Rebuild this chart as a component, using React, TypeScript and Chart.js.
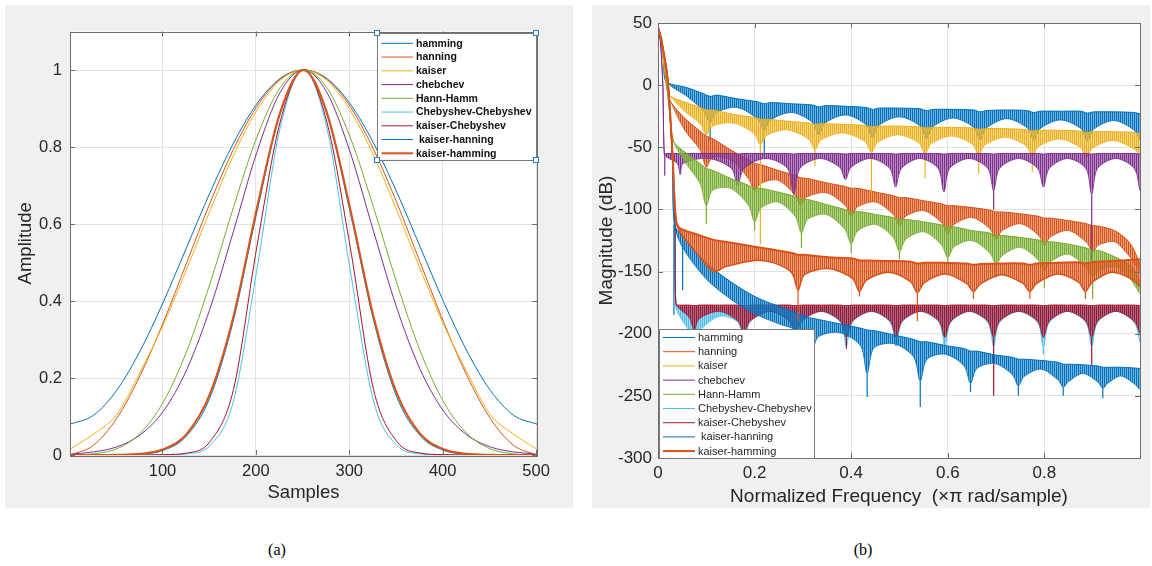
import React, { useEffect, useRef } from 'react';
import { Chart, registerables } from 'chart.js';

Chart.register(...registerables);
Chart.defaults.font.family = '"Liberation Sans", Arial, Helvetica, sans-serif';

// ---------------- colours / labels ----------------
const C_BLUE = '#0072BD';
const C_ORANGE = '#D95319';
const C_YELLOW = '#EDB120';
const C_PURPLE = '#7E2F8E';
const C_GREEN = '#77AC30';
const C_CYAN = '#4DBEEE';
const C_RED = '#A2142F';

const WINDOW_NAMES = ['hamming', 'hanning', 'kaiser', 'chebchev', 'Hann-Hamm', 'Chebyshev-Chebyshev', 'kaiser-Chebyshev', ' kaiser-hanning', 'kaiser-hamming'];
const SERIES_COLORS = [C_BLUE, C_ORANGE, C_YELLOW, C_PURPLE, C_GREEN, C_CYAN, C_RED, C_BLUE, C_ORANGE];
const SERIES_WIDTHS = [1, 1, 1, 1, 1, 1, 1, 1, 2];

// ---------------- (a) window shapes ----------------
const SAMPLE_TICKS = [100, 200, 300, 400, 500];
const AMP_TICKS = [0, 0.2, 0.4, 0.6, 0.8, 1];
const SAMPLES = [1, 26, 51, 76, 101, 126, 151, 176, 201, 226, 251, 276, 301, 326, 351, 376, 401, 426, 451, 476, 501];
const W_HAMMING = [0.080, 0.103, 0.168, 0.270, 0.398, 0.540, 0.682, 0.810, 0.912, 0.978, 1.000, 0.978, 0.912, 0.810, 0.682, 0.540, 0.398, 0.270, 0.168, 0.103, 0.080];
const W_HANNING = [0.000, 0.025, 0.095, 0.206, 0.345, 0.500, 0.655, 0.794, 0.905, 0.976, 1.000, 0.976, 0.905, 0.794, 0.655, 0.500, 0.345, 0.206, 0.095, 0.025, 0.000];
const W_KAISER = [0.015, 0.054, 0.105, 0.215, 0.339, 0.483, 0.635, 0.778, 0.895, 0.973, 1.000, 0.973, 0.895, 0.778, 0.635, 0.483, 0.339, 0.215, 0.105, 0.054, 0.015];
const W_CHEB = [0.002, 0.008, 0.021, 0.052, 0.114, 0.222, 0.381, 0.581, 0.786, 0.942, 1.000, 0.942, 0.786, 0.581, 0.381, 0.222, 0.114, 0.052, 0.021, 0.008, 0.002];
const W_HANN_HAMM = [0.000, 0.003, 0.016, 0.056, 0.138, 0.270, 0.446, 0.643, 0.825, 0.954, 1.000, 0.954, 0.825, 0.643, 0.446, 0.270, 0.138, 0.056, 0.016, 0.003, 0.000];
const W_CHEB_CHEB = [0, 0, 0, 0, 0, 0.003, 0.025, 0.140, 0.480, 0.850, 1.000, 0.850, 0.480, 0.140, 0.025, 0.003, 0, 0, 0, 0, 0];
const W_KAISER_CHEB = [0, 0, 0, 0, 0.001, 0.005, 0.035, 0.170, 0.540, 0.865, 1.000, 0.865, 0.540, 0.170, 0.035, 0.005, 0.001, 0, 0, 0, 0];
const W_KAISER_HANN = [0, 0, 0, 0.002, 0.012, 0.050, 0.150, 0.350, 0.630, 0.885, 1.000, 0.885, 0.630, 0.350, 0.150, 0.050, 0.012, 0.002, 0, 0, 0];
const W_KAISER_HAMM = [0, 0, 0.0005, 0.003, 0.015, 0.055, 0.160, 0.360, 0.640, 0.890, 1.000, 0.890, 0.640, 0.360, 0.160, 0.055, 0.015, 0.003, 0.0005, 0, 0];
const WINDOW_VALUES = [W_HAMMING, W_HANNING, W_KAISER, W_CHEB, W_HANN_HAMM, W_CHEB_CHEB, W_KAISER_CHEB, W_KAISER_HANN, W_KAISER_HAMM];

// ---------------- (b) magnitude responses (upper edge / lower edge of the dense band) ----------------
const FREQ_TICKS = [0, 0.2, 0.4, 0.6, 0.8];
const DB_TICKS = [-300, -250, -200, -150, -100, -50, 0, 50];

const HAM_F = [0, 0.006, 0.012, 0.017, 0.06, 0.095, 0.108, 0.121, 0.164, 0.207, 0.220, 0.233, 0.277, 0.320, 0.333, 0.346, 0.389, 0.431, 0.444, 0.457, 0.500, 0.543, 0.556, 0.569, 0.611, 0.654, 0.667, 0.680, 0.722, 0.765, 0.778, 0.791, 0.833, 0.876, 0.889, 0.902, 0.944, 0.985, 0.998];
const HAM_HI = [47, 38, 18, 3, -2, -7, -9, -8, -11, -13.5, -15, -14, -15, -16, -17.5, -16.5, -17, -18, -19.5, -18.5, -18.5, -19, -20.5, -19.5, -19.5, -20, -21.5, -20.5, -20, -20.5, -22, -21, -21, -21, -22.5, -21.5, -21.5, -22, -23];
const HAM_LO = [47, 38, 18, 3, -9, -21, -30, -22, -18, -27.5, -36, -28, -22, -30, -40, -30.5, -24, -32, -42, -32.5, -25.5, -33, -43, -33.5, -26.5, -34, -44, -34.5, -27, -34.5, -44, -35, -28, -35, -45, -35.5, -28.5, -36, -44];
const HAM_SPK = [[0.108, -30, -45], [0.220, -36, -57]];

const HANN_F = [0, 0.007, 0.014, 0.021, 0.027, 0.055, 0.087, 0.100, 0.113, 0.150, 0.187, 0.200, 0.213, 0.248, 0.282, 0.295, 0.308, 0.348, 0.387, 0.400, 0.413, 0.450, 0.487, 0.500, 0.513, 0.550, 0.587, 0.600, 0.613, 0.650, 0.687, 0.700, 0.713, 0.750, 0.787, 0.800, 0.813, 0.850, 0.887, 0.900, 0.913, 0.945, 0.970, 0.985, 0.998];
const HANN_HI = [47, 37, 10, -8, -14, -26.5, -37, -41, -43, -52, -60, -63, -64, -68.5, -72.5, -74.5, -75, -78.5, -81.5, -83, -83, -86, -89, -90.5, -90.5, -93, -95.5, -97, -97, -98.5, -100.5, -102, -102, -103.5, -105.5, -107, -107, -109, -111.5, -113, -113.5, -117, -124, -132, -145];
const HANN_LO = [47, 37, 10, -8, -14, -36, -52, -66, -58, -60, -75, -85, -79, -76.5, -87.5, -96, -90, -86.5, -96.5, -105, -98, -94, -104, -113, -105.5, -101, -110.5, -119, -112, -106.5, -115.5, -124, -117, -111.5, -120.5, -129, -122, -117, -126.5, -134, -128.5, -126, -135, -142, -150];
const HANN_SPK = [[0.295, -96, -99]];

const KAIS_F = [0, 0.006, 0.013, 0.020, 0.026, 0.055, 0.087, 0.100, 0.113, 0.156, 0.199, 0.212, 0.225, 0.268, 0.312, 0.325, 0.338, 0.383, 0.429, 0.442, 0.455, 0.497, 0.540, 0.553, 0.566, 0.608, 0.651, 0.664, 0.677, 0.720, 0.762, 0.775, 0.788, 0.831, 0.874, 0.887, 0.900, 0.942, 0.984, 0.998];
const KAIS_HI = [47, 38, 15, -4, -9, -13.5, -18, -20, -20, -23.5, -26, -27.5, -27.5, -29, -30.5, -31.5, -31, -31.5, -32.5, -33.5, -33, -33, -33.5, -34.5, -34, -34, -34.5, -35.5, -35, -35, -35.8, -36.8, -36.3, -36.3, -37, -38, -37.5, -37.5, -38, -39];
const KAIS_LO = [47, 38, 15, -4, -9, -21, -31, -40, -33, -30.5, -39, -48, -40.5, -36, -43.5, -52, -44, -38.5, -45.5, -54, -46, -40, -46.5, -55, -47, -41, -47.5, -56, -48, -42, -48.8, -57, -49.3, -43.3, -50, -58, -50.5, -44.5, -51, -56];
const KAIS_SPK = [[0.212, -48, -128], [0.325, -52, -65], [0.442, -54, -92], [0.553, -55, -75], [0.664, -56, -71], [0.775, -57, -70]];

const CHEB_F = [0, 0.005, 0.010, 0.013, 0.018, 0.040, 0.046, 0.052, 0.105, 0.152, 0.165, 0.178, 0.223, 0.268, 0.281, 0.294, 0.335, 0.376, 0.388, 0.400, 0.440, 0.480, 0.492, 0.504, 0.542, 0.580, 0.592, 0.604, 0.644, 0.683, 0.695, 0.707, 0.747, 0.786, 0.798, 0.810, 0.848, 0.886, 0.898, 0.910, 0.948, 0.986, 0.998];
const CHEB_HI = [47, 35, 0, -55, -55, -55, -55.5, -55, -55, -55, -55.5, -55, -55, -55, -55.5, -55, -55, -55, -55.5, -55, -55, -55, -55.5, -55, -55, -55, -55.5, -55, -55, -55, -55.5, -55, -55, -55, -55.5, -55, -55, -55, -55.5, -55, -55, -55, -55.5];
const CHEB_LO = [47, 35, 0, -55, -58, -63, -72, -63, -59, -67, -80, -67, -59, -67, -88, -67, -59, -66, -76, -66, -59, -67, -82, -67, -59, -67, -86, -67, -59, -67, -85, -67, -59, -67, -82, -67, -59, -67, -88, -67, -59, -67, -85];
const CHEB_SPK = [[0.014, -55, -73], [0.695, -85, -100], [0.898, -88, -141]];

const HH_F = [0, 0.008, 0.016, 0.024, 0.032, 0.058, 0.087, 0.100, 0.113, 0.150, 0.187, 0.200, 0.213, 0.248, 0.284, 0.297, 0.310, 0.348, 0.387, 0.400, 0.413, 0.450, 0.487, 0.500, 0.513, 0.550, 0.587, 0.600, 0.613, 0.650, 0.687, 0.700, 0.713, 0.750, 0.787, 0.800, 0.813, 0.850, 0.887, 0.900, 0.913, 0.945, 0.970, 0.985, 0.998];
const HH_HI = [47, 37, 10, -22, -45, -54.5, -63, -67, -68.5, -75, -80.5, -83, -83, -86, -89.5, -92, -92, -96, -100, -102, -101.5, -104, -106.5, -108, -108, -110, -112.5, -114, -114, -117, -119, -121, -121, -122.5, -124.5, -126, -126, -128, -131, -133, -133, -138, -143, -148, -158];
const HH_LO = [47, 37, 10, -22, -45, -63, -79, -97, -84.5, -83, -96.5, -110, -99, -94, -105.5, -119, -108, -104, -116, -128, -117.5, -112, -122.5, -134, -124, -118, -128.5, -139, -130, -125, -135, -144, -137, -130.5, -140.5, -149, -142, -136, -147, -154, -149, -146, -152, -160, -168];
const HH_SPK = [[0.1, -97, -112], [0.2, -110, -117], [0.297, -119, -131], [0.4, -128, -135], [0.5, -134, -140], [0.6, -139, -144], [0.7, -144, -155], [0.8, -149, -163], [0.9, -154, -172]];

const KC_F = [0, 0.010, 0.020, 0.030, 0.035, 0.037, 0.045, 0.065, 0.075, 0.085, 0.127, 0.166, 0.178, 0.190, 0.232, 0.273, 0.285, 0.297, 0.338, 0.378, 0.390, 0.402, 0.442, 0.481, 0.493, 0.505, 0.544, 0.582, 0.594, 0.606, 0.645, 0.683, 0.695, 0.707, 0.747, 0.786, 0.798, 0.810, 0.848, 0.886, 0.898, 0.910, 0.948, 0.986, 0.998];
const CC_HI = [47, 30, 5, -60, -110, -178, -179, -179, -179.5, -179, -179, -179, -179.5, -179, -179, -179, -179.5, -179, -179, -179, -179.5, -179, -179, -179, -179.5, -179, -179, -179, -179.5, -179, -179, -179, -179.5, -179, -179, -179, -179.5, -179, -179, -179, -179.5, -179, -179, -179, -179.5];
const CC_LO = [47, 30, 5, -60, -110, -178, -186, -198, -206, -198, -186, -191, -210, -191, -182, -191, -210, -191, -182, -191, -210, -191, -182, -191, -210, -191, -182, -191, -210, -191, -182, -191, -210, -191, -182, -191, -210, -191, -182, -191, -210, -191, -182, -191, -207];
const CC_SPK = [[0.798, -210, -217]];
const KC_HI = [47, 30, 5, -60, -110, -176, -177, -177, -177.5, -177, -177, -177, -177.5, -177, -177, -177, -177.5, -177, -177, -177, -177.5, -177, -177, -177, -177.5, -177, -177, -177, -177.5, -177, -177, -177, -177.5, -177, -177, -177, -177.5, -177, -177, -177, -177.5, -177, -177, -177, -177.5];
const KC_LO = [47, 30, 5, -60, -110, -176, -180, -187, -197, -188, -182, -190, -200, -190, -182, -190, -201, -190, -182, -190, -203, -190, -182, -190, -203, -190, -182, -190, -203, -190, -182, -190, -203, -190, -182, -190, -203, -190, -182, -190, -203, -190, -182, -190, -200];
const KC_SPK = [[0.39, -203, -212], [0.695, -203, -250], [0.898, -203, -225]];

const KH_F = [0, 0.010, 0.020, 0.030, 0.034, 0.050, 0.100, 0.150, 0.200, 0.250, 0.304, 0.318, 0.332, 0.375, 0.419, 0.433, 0.447, 0.488, 0.529, 0.543, 0.557, 0.595, 0.634, 0.647, 0.660, 0.697, 0.734, 0.746, 0.758, 0.793, 0.828, 0.839, 0.850, 0.880, 0.911, 0.921, 0.931, 0.958, 0.985, 0.998];
const KH_HI = [47, 30, 5, -60, -112, -121, -143, -158, -170, -178, -186, -187.5, -188.5, -192, -195.5, -197, -197.5, -201, -204.5, -206.5, -206.5, -209.5, -212, -214, -214, -217, -219, -220.5, -220.5, -221.5, -223, -224.5, -224.5, -225, -226, -227, -227, -227, -227.5, -228];
const KH_LO = [47, 30, 5, -60, -112, -130, -156, -172, -184, -192, -200, -214, -202.5, -199, -209.5, -232, -211.5, -208, -218.5, -238, -220.5, -216.5, -226, -240, -228, -224, -233, -242, -234.5, -228.5, -237, -243, -238.5, -232, -239, -244, -240, -234, -240, -245];
const KH_SPK = [[0.033, -112, -185], [0.051, -125, -165], [0.433, -232, -251], [0.543, -238, -259], [0.647, -240, -247], [0.746, -242, -250], [0.839, -243, -250], [0.921, -244, -252]];

const KHM_F = [0, 0.010, 0.020, 0.030, 0.037, 0.045, 0.080, 0.115, 0.140, 0.200, 0.240, 0.277, 0.290, 0.303, 0.353, 0.403, 0.417, 0.431, 0.477, 0.523, 0.537, 0.551, 0.595, 0.639, 0.653, 0.667, 0.711, 0.756, 0.770, 0.784, 0.827, 0.871, 0.885, 0.899, 0.940, 0.981, 0.998];
const KHM_HI = [47, 30, 5, -55, -108, -115, -120, -124.5, -126, -130, -132.5, -135, -136.5, -136.5, -138.5, -139.5, -141, -141, -141.5, -142, -143.5, -143, -143, -143.5, -144.5, -144, -143.5, -143.5, -144.5, -143.5, -143, -142.5, -143.5, -142.5, -141.5, -140.5, -140];
const KHM_LO = [47, 30, 5, -55, -108, -118, -135, -150, -146, -141, -143, -151, -165, -152.5, -147.5, -155.5, -166, -157, -150.5, -158, -167, -159, -152, -159.5, -166, -160, -152.5, -159.5, -166, -159.5, -152, -158.5, -166, -158.5, -150.5, -156, -162];
const KHM_SPK = [[0.29, -165, -190], [0.417, -166, -170], [0.537, -167, -190], [0.653, -166, -172], [0.77, -166, -172], [0.885, -166, -172]];

const RESPONSES = [
  { F: HAM_F, HI: HAM_HI, LO: HAM_LO, SPK: HAM_SPK },
  { F: HANN_F, HI: HANN_HI, LO: HANN_LO, SPK: HANN_SPK },
  { F: KAIS_F, HI: KAIS_HI, LO: KAIS_LO, SPK: KAIS_SPK },
  { F: CHEB_F, HI: CHEB_HI, LO: CHEB_LO, SPK: CHEB_SPK },
  { F: HH_F, HI: HH_HI, LO: HH_LO, SPK: HH_SPK },
  { F: KC_F, HI: CC_HI, LO: CC_LO, SPK: CC_SPK },
  { F: KC_F, HI: KC_HI, LO: KC_LO, SPK: KC_SPK },
  { F: KH_F, HI: KH_HI, LO: KH_LO, SPK: KH_SPK },
  { F: KHM_F, HI: KHM_HI, LO: KHM_LO, SPK: KHM_SPK },
];

// ---------------- styling helpers ----------------
const TICK_COLOR = '#262626';
const AXIS_COLOR = '#6e6e6e';
const GRID_COLOR = '#e2e2e2';

function hexToRgba(hex: string, a: number) {
  const n = parseInt(hex.slice(1), 16);
  return `rgba(${(n >> 16) & 255},${(n >> 8) & 255},${n & 255},${a})`;
}

function makePattern(color: string): CanvasPattern | string {
  const c = document.createElement('canvas');
  c.width = 2;
  c.height = 4;
  const g = c.getContext('2d');
  if (!g) return color;
  g.fillStyle = color;
  g.fillRect(0, 0, 1, 4);
  g.fillStyle = hexToRgba(color, 0.55);
  g.fillRect(1, 0, 1, 4);
  return g.createPattern(c, 'repeat') || color;
}

const plotBgPlugin = {
  id: 'plotBg',
  beforeDraw(chart: any) {
    const { ctx, chartArea } = chart;
    ctx.save();
    ctx.fillStyle = '#ffffff';
    ctx.fillRect(chartArea.left, chartArea.top, chartArea.right - chartArea.left, chartArea.bottom - chartArea.top);
    ctx.restore();
  },
};

const boxPlugin = {
  id: 'boxTicks',
  afterDraw(chart: any) {
    const { ctx, chartArea } = chart;
    const { left, right, top, bottom } = chartArea;
    ctx.save();
    ctx.strokeStyle = AXIS_COLOR;
    ctx.lineWidth = 1;
    ctx.strokeRect(Math.round(left) + 0.5, Math.round(top) + 0.5, Math.round(right - left), Math.round(bottom - top));
    ctx.beginPath();
    const xs = chart.scales.x;
    xs.ticks.forEach((t: any) => {
      const px = Math.round(xs.getPixelForValue(t.value)) + 0.5;
      ctx.moveTo(px, bottom);
      ctx.lineTo(px, bottom - 5);
      ctx.moveTo(px, top);
      ctx.lineTo(px, top + 5);
    });
    const ys = chart.scales.y;
    ys.ticks.forEach((t: any) => {
      const py = Math.round(ys.getPixelForValue(t.value)) + 0.5;
      ctx.moveTo(left, py);
      ctx.lineTo(left + 5, py);
      ctx.moveTo(right, py);
      ctx.lineTo(right - 5, py);
    });
    ctx.stroke();
    ctx.restore();
  },
};

function legendPlugin(o: any) {
  return {
    id: 'customLegend',
    afterDraw(chart: any) {
      const ctx = chart.ctx;
      ctx.save();
      ctx.fillStyle = '#ffffff';
      ctx.fillRect(o.x, o.y, o.w, o.h);
      ctx.strokeStyle = o.border;
      ctx.lineWidth = 1;
      ctx.strokeRect(o.x + 0.5, o.y + 0.5, o.w, o.h);
      WINDOW_NAMES.forEach((name, i) => {
        const y = o.row0 + i * o.dy;
        ctx.strokeStyle = SERIES_COLORS[i];
        ctx.lineWidth = SERIES_WIDTHS[i];
        ctx.beginPath();
        ctx.moveTo(o.lx0, y);
        ctx.lineTo(o.lx1, y);
        ctx.stroke();
        ctx.fillStyle = o.textColor;
        ctx.font = o.font;
        ctx.textBaseline = 'middle';
        ctx.textAlign = 'left';
        ctx.fillText(name, o.tx, y + 0.5);
      });
      if (o.handles) {
        const pts = [[o.x, o.y], [o.x + o.w, o.y], [o.x, o.y + o.h], [o.x + o.w, o.y + o.h]];
        pts.forEach(([hx, hy]) => {
          ctx.fillStyle = '#ffffff';
          ctx.fillRect(hx - 2.5, hy - 2.5, 5, 5);
          ctx.strokeStyle = '#2a7fc4';
          ctx.lineWidth = 1;
          ctx.strokeRect(hx - 2.5, hy - 2.5, 5, 5);
        });
      }
      ctx.restore();
    },
  };
}

function axisBase(ticks: number[], fontSize: number, pad: number) {
  return {
    type: 'linear',
    afterBuildTicks: (a: any) => {
      a.ticks = ticks.map((v) => ({ value: v }));
    },
    grid: { color: GRID_COLOR, drawTicks: false, lineWidth: 1 },
    border: { display: false },
    ticks: {
      color: TICK_COLOR,
      font: { size: fontSize },
      padding: pad,
      autoSkip: false,
      maxRotation: 0,
      callback: (v: any) => String(v),
    },
  };
}

function leftConfig(): any {
  const datasets = WINDOW_VALUES.map((vals, i) => ({
    label: WINDOW_NAMES[i],
    data: SAMPLES.map((x, j) => ({ x, y: vals[j] })),
    borderColor: SERIES_COLORS[i],
    borderWidth: SERIES_WIDTHS[i],
    pointRadius: 0,
    pointHoverRadius: 0,
    cubicInterpolationMode: 'monotone',
    fill: false,
    order: 20 - i,
  }));
  return {
    type: 'line',
    data: { datasets },
    options: {
      animation: false,
      responsive: false,
      devicePixelRatio: 1,
      events: [],
      layout: { padding: { left: 0, right: 36, top: 26.5, bottom: 0 } },
      plugins: { legend: { display: false }, tooltip: { enabled: false } },
      scales: {
        x: {
          ...axisBase(SAMPLE_TICKS, 16.5, 7),
          min: 1,
          max: 501,
          afterFit: (a: any) => { a.height = 53; },
          title: { display: true, text: 'Samples', color: TICK_COLOR, font: { size: 18.5 }, padding: { top: 0, bottom: 4 } },
        },
        y: {
          ...axisBase(AMP_TICKS, 16.5, 8),
          min: 0,
          max: 1.1,
          afterFit: (a: any) => { a.width = 65; },
          title: { display: true, text: 'Amplitude', color: TICK_COLOR, font: { size: 18.5 }, padding: { top: 10, bottom: 0 } },
        },
      },
    },
    plugins: [
      plotBgPlugin,
      boxPlugin,
      legendPlugin({ x: 372, y: 28, w: 159, h: 127, row0: 38.3, dy: 13.75, lx0: 376.5, lx1: 408, tx: 411, font: 'bold 10.5px "Liberation Sans", Arial, sans-serif', textColor: '#111111', border: '#7a7a7a', handles: true }),
    ],
  };
}

function rightConfig(): any {
  const datasets: any[] = [];
  RESPONSES.forEach((s, i) => {
    const color = SERIES_COLORS[i];
    const thick = i === 8;
    const order = 20 - i;
    datasets.push({
      label: WINDOW_NAMES[i] + ' upper',
      data: s.F.map((x, j) => ({ x, y: s.HI[j] })),
      borderColor: color,
      borderWidth: thick ? 2 : 1,
      pointRadius: 0,
      pointHoverRadius: 0,
      tension: 0.3,
      fill: false,
      order,
    });
    datasets.push({
      label: WINDOW_NAMES[i] + ' lower',
      data: s.F.map((x, j) => ({ x, y: s.LO[j] })),
      borderColor: color,
      borderWidth: thick ? 1.5 : 0.8,
      pointRadius: 0,
      pointHoverRadius: 0,
      tension: 0.3,
      fill: '-1',
      backgroundColor: makePattern(color),
      order,
    });
    const spk: any[] = [];
    s.SPK.forEach(([f, a, b]) => {
      spk.push({ x: f, y: a }, { x: f, y: b }, { x: f, y: null });
    });
    datasets.push({
      label: WINDOW_NAMES[i] + ' nulls',
      data: spk,
      borderColor: color,
      borderWidth: 1.2,
      pointRadius: 0,
      pointHoverRadius: 0,
      tension: 0,
      spanGaps: false,
      fill: false,
      order,
    });
  });
  return {
    type: 'line',
    data: { datasets },
    options: {
      animation: false,
      responsive: false,
      devicePixelRatio: 1,
      events: [],
      layout: { padding: { left: 0, right: 10, top: 18, bottom: 0 } },
      plugins: { legend: { display: false }, tooltip: { enabled: false } },
      scales: {
        x: {
          ...axisBase(FREQ_TICKS, 17, 5),
          min: 0,
          max: 0.998,
          afterFit: (a: any) => { a.height = 50; },
          title: { display: true, text: 'Normalized Frequency  (×π rad/sample)', color: TICK_COLOR, font: { size: 19 }, padding: { top: 0, bottom: 0 } },
        },
        y: {
          ...axisBase(DB_TICKS, 17, 6),
          min: -300,
          max: 50,
          afterFit: (a: any) => { a.width = 66; },
          title: { display: true, text: 'Magnitude (dB)', color: TICK_COLOR, font: { size: 19 }, padding: { top: 3, bottom: 0 } },
        },
      },
    },
    plugins: [
      plotBgPlugin,
      boxPlugin,
      legendPlugin({ x: 67, y: 324, w: 155, h: 129, row0: 332.5, dy: 14.2, lx0: 71, lx1: 103, tx: 106, font: '11px "Liberation Sans", Arial, sans-serif', textColor: '#262626', border: '#7a7a7a', handles: false }),
    ],
  };
}

export default function App() {
  const leftRef = useRef<HTMLCanvasElement>(null);
  const rightRef = useRef<HTMLCanvasElement>(null);

  useEffect(() => {
    const c1 = new Chart(leftRef.current as HTMLCanvasElement, leftConfig());
    const c2 = new Chart(rightRef.current as HTMLCanvasElement, rightConfig());
    return () => {
      c1.destroy();
      c2.destroy();
    };
  }, []);

  const caption: React.CSSProperties = {
    position: 'absolute',
    top: 540,
    width: 60,
    textAlign: 'center',
    font: '16px "Liberation Serif", "Times New Roman", serif',
    lineHeight: '20px',
    color: '#000',
  };

  return (
    <div style={{ position: 'absolute', left: 0, top: 0, width: 1152, height: 566, background: '#ffffff', overflow: 'hidden' }}>
      <div style={{ position: 'absolute', left: 5, top: 5, width: 568, height: 503, background: '#f0f0f0' }}>
        <canvas ref={leftRef} width={568} height={503} style={{ display: 'block', width: 568, height: 503 }} />
      </div>
      <div style={{ position: 'absolute', left: 592, top: 5, width: 558, height: 503, background: '#f0f0f0' }}>
        <canvas ref={rightRef} width={558} height={503} style={{ display: 'block', width: 558, height: 503 }} />
      </div>
      <div style={{ ...caption, left: 247 }}>(a)</div>
      <div style={{ ...caption, left: 833 }}>(b)</div>
    </div>
  );
}
